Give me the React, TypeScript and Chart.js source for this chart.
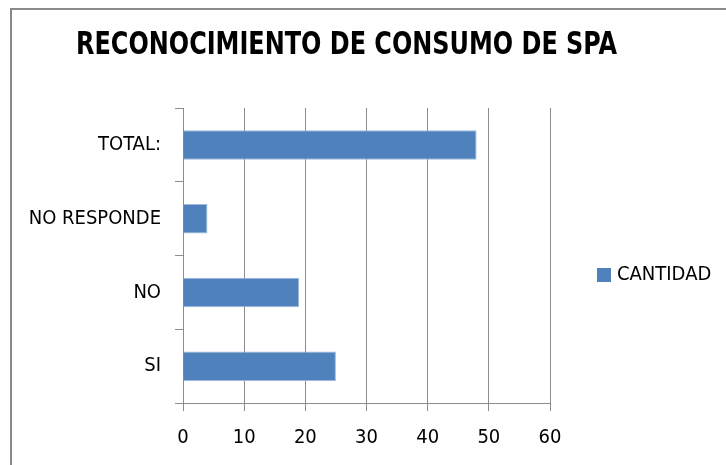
import React, { useEffect, useRef } from "react";
import { Chart, registerables } from "chart.js";

Chart.register(...registerables);

const TITLE = "RECONOCIMIENTO DE CONSUMO DE SPA";
const SERIES_LABEL = "CANTIDAD";
const categories = ["TOTAL:", "NO RESPONDE", "NO", "SI"];
const cantidad = [48, 4, 19, 25];
const xMin = 0;
const xMax = 60;
const xStep = 10;

const FONT = "'DejaVu Sans Condensed', 'Liberation Sans Narrow', sans-serif";
const TITLE_FONT = "'Liberation Sans Narrow', 'DejaVu Sans Condensed', sans-serif";
const BAR_COLOR = "#4F81BD";
const GRID_COLOR = "#8c8c8c";

const framePlugin = {
  id: "frame",
  beforeDraw(chart: any) {
    const ctx = chart.ctx;
    ctx.save();
    ctx.fillStyle = "#ffffff";
    ctx.fillRect(0, 0, chart.width, chart.height);
    ctx.fillStyle = "#8a8a8a";
    ctx.fillRect(10, 8, chart.width - 10, 2);
    ctx.fillRect(10, 8, 2, chart.height - 8);
    ctx.restore();
  },
};

const titlePlugin = {
  id: "leftTitle",
  afterDraw(chart: any) {
    const ctx = chart.ctx;
    ctx.save();
    ctx.font = `bold 32px ${TITLE_FONT}`;
    ctx.fillStyle = "#000000";
    ctx.textAlign = "left";
    ctx.textBaseline = "alphabetic";
    ctx.fillText(TITLE, 76, 54, 541);
    ctx.restore();
  },
};

const sideLegendPlugin = {
  id: "sideLegend",
  afterDraw(chart: any) {
    const ctx = chart.ctx;
    const ds = chart.data.datasets[0];
    const x = chart.chartArea.right + 47;
    const cy = 275;
    ctx.save();
    ctx.fillStyle = ds.backgroundColor;
    ctx.fillRect(x, cy - 7, 14, 14);
    ctx.font = `20px ${FONT}`;
    ctx.fillStyle = "#000000";
    ctx.textBaseline = "middle";
    ctx.textAlign = "left";
    ctx.fillText(ds.label, x + 20, cy);
    ctx.restore();
  },
};

export default function App() {
  const ref = useRef<HTMLCanvasElement | null>(null);

  useEffect(() => {
    if (!ref.current) return;
    const chart = new Chart(ref.current, {
      type: "bar",
      data: {
        labels: categories,
        datasets: [
          {
            label: SERIES_LABEL,
            data: cantidad,
            backgroundColor: BAR_COLOR,
            borderColor: "#9db8dc",
            borderWidth: 1,
            categoryPercentage: 1,
            barPercentage: 0.4,
          },
        ],
      },
      options: {
        indexAxis: "y",
        responsive: false,
        animation: false,
        events: [],
        layout: { padding: { left: 10, right: 176, top: 108, bottom: 0 } },
        plugins: {
          legend: { display: false },
          tooltip: { enabled: false },
          title: { display: false },
        },
        scales: {
          x: {
            type: "linear",
            min: xMin,
            max: xMax,
            ticks: {
              stepSize: xStep,
              color: "#000000",
              font: { family: FONT, size: 20 },
              padding: 14.5,
            },
            grid: {
              color: GRID_COLOR,
              lineWidth: 1,
              drawTicks: true,
              tickLength: 8,
              tickColor: GRID_COLOR,
            },
            border: { color: GRID_COLOR, width: 1 },
            afterFit: (scale: any) => {
              scale.height = 62;
            },
          },
          y: {
            type: "category",
            ticks: {
              color: "#000000",
              font: { family: FONT, size: 20 },
              padding: 14,
            },
            grid: {
              display: true,
              drawOnChartArea: false,
              drawTicks: true,
              tickLength: 8,
              tickColor: GRID_COLOR,
              offset: true,
            },
            border: { color: GRID_COLOR, width: 1 },
            afterFit: (scale: any) => {
              scale.width = 173;
            },
          },
        },
      },
      plugins: [framePlugin, titlePlugin, sideLegendPlugin],
    } as any);
    return () => chart.destroy();
  }, []);

  return (
    <div style={{ position: "fixed", left: 0, top: 0, width: 726, height: 465, background: "#fff" }}>
      <canvas ref={ref} width={726} height={465} style={{ display: "block" }} />
    </div>
  );
}
